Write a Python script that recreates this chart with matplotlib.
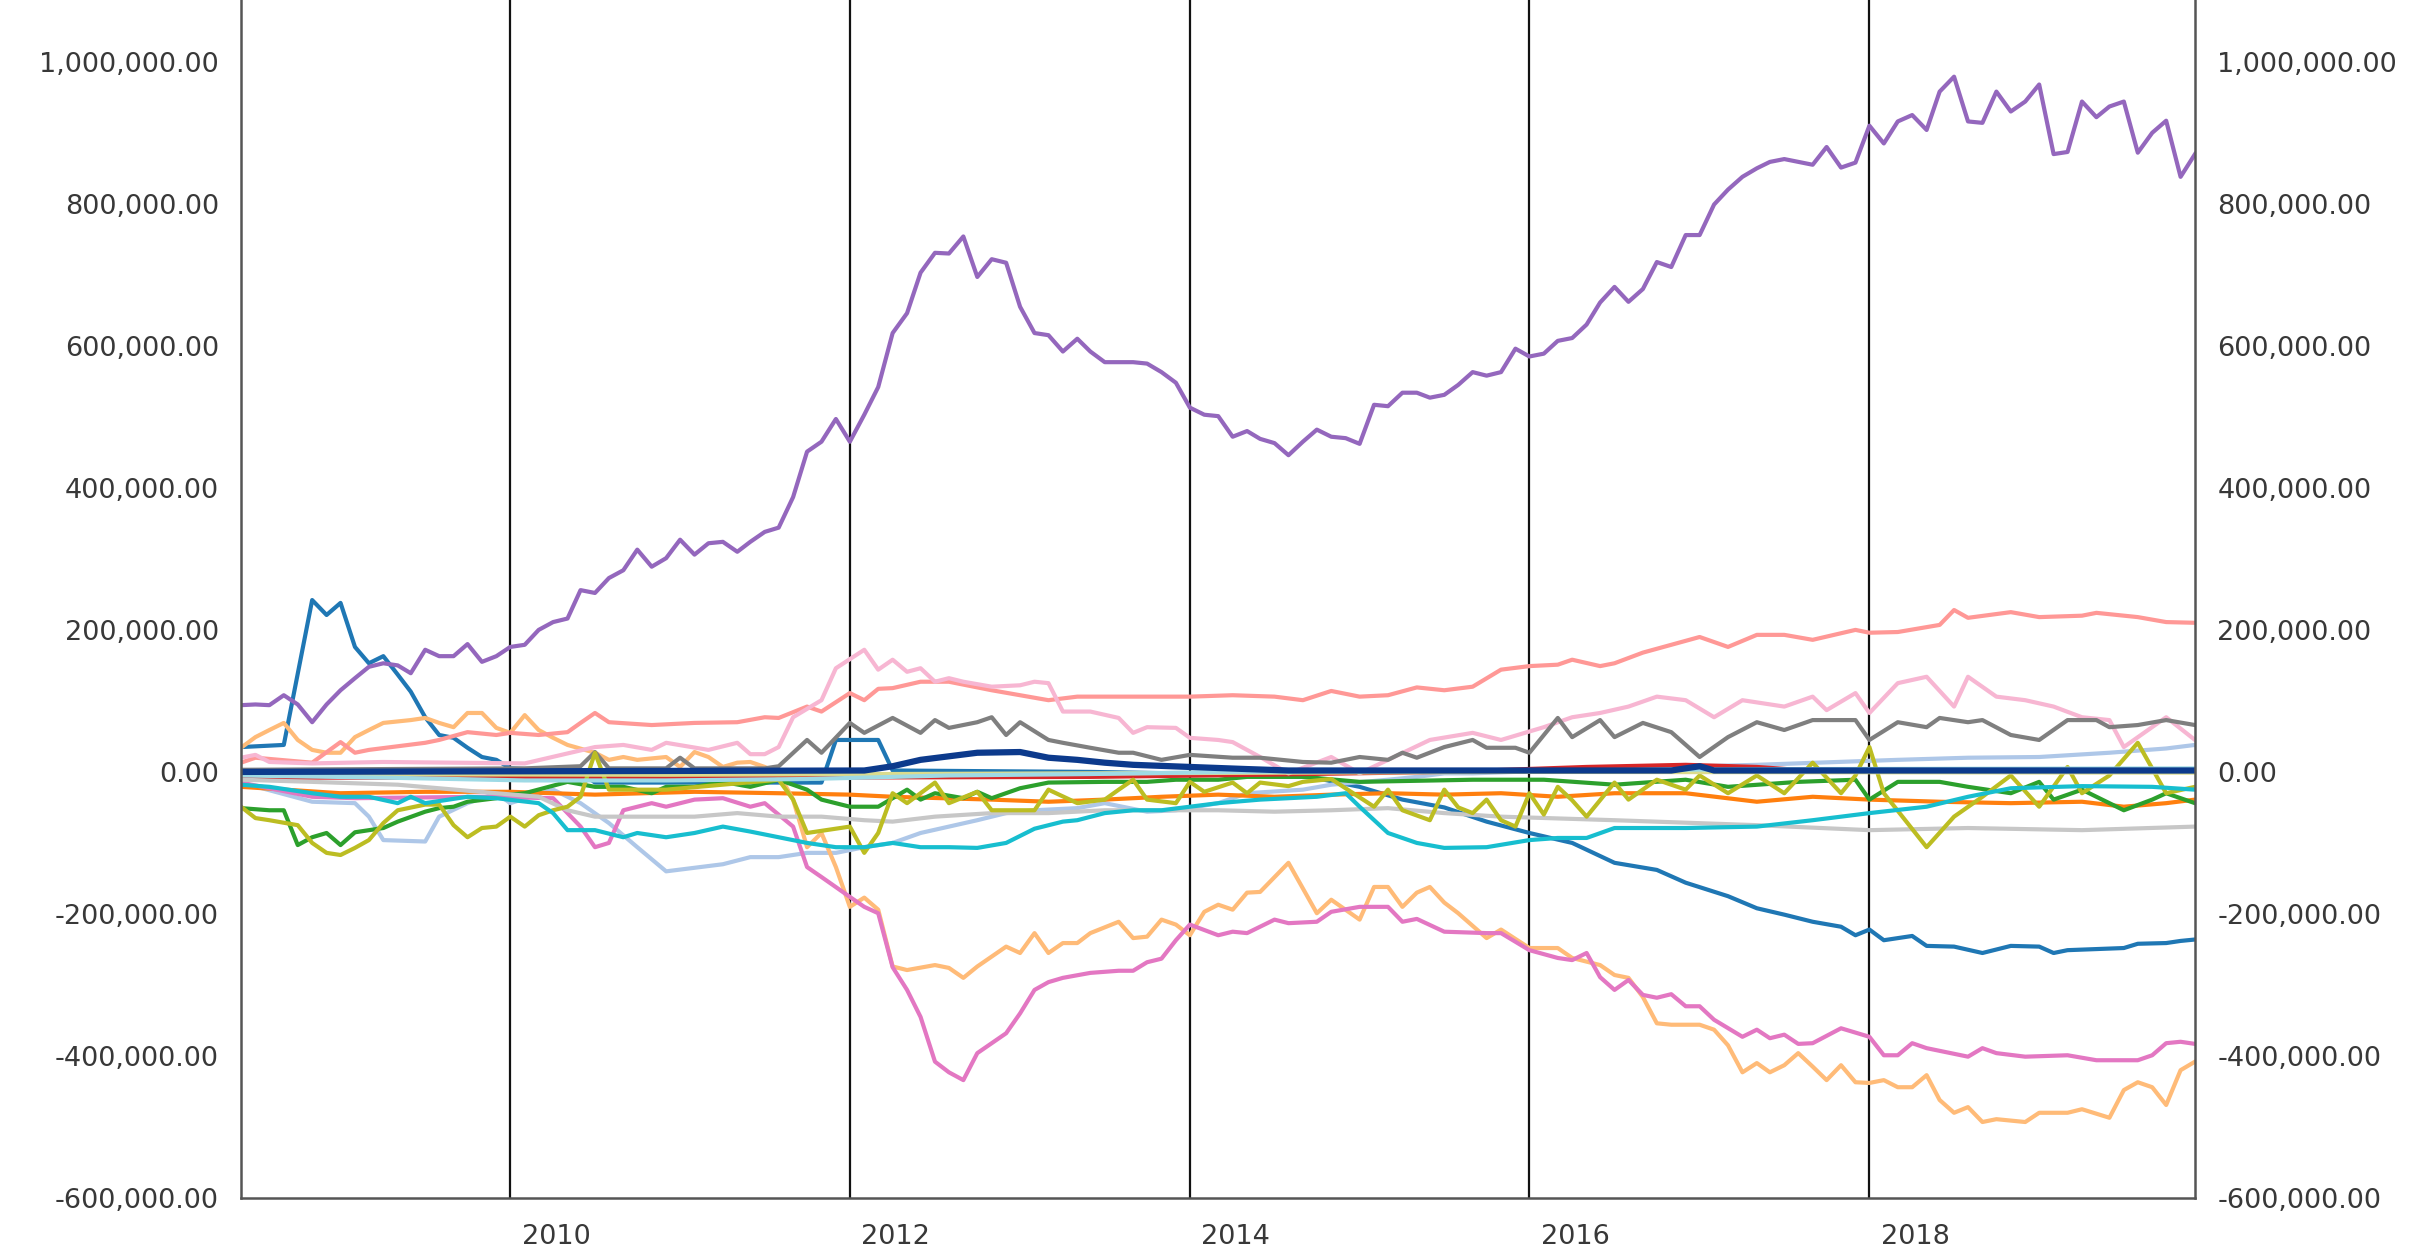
import pandas as pd
import matplotlib
matplotlib.use("Agg")
import matplotlib.pyplot as plt
from matplotlib.ticker import FuncFormatter
import matplotlib.dates as mdates

# monthly axis, Mar 2008 .. Sep 2019
dates = pd.date_range("2008-03-01", periods=139, freq="MS")

# values in thousands
purple_v = [94, 95, 94, 108, 95, 70, 95, 115, 132, 148, 153, 150, 139, 172, 163, 163, 180, 155, 163, 176,
            179, 200, 211, 216, 256, 252, 273, 284, 313, 289, 301, 327, 306, 322, 324, 310, 324, 338, 344, 387,
            451, 465, 497, 465, 503, 542, 618, 646, 703, 731, 730, 754, 697, 722, 717, 655, 618, 615, 592, 610,
            592, 577, 577, 577, 575, 563, 548, 513, 503, 501, 472, 480, 469, 463, 446, 465, 482, 472, 470, 462,
            517, 515, 534, 534, 527, 531, 545, 563, 558, 563, 596, 585, 589, 607, 611, 630, 661, 683, 662, 680,
            718, 711, 756, 756, 799, 820, 838, 850, 859, 863, 859, 855, 880, 851, 858, 910, 885, 916, 925, 904,
            958, 979, 916, 914, 958, 930, 944, 968, 870, 873, 944, 922, 937, 944, 872, 900, 917, 838, 870]

blue_m = [0, 3, 5, 6, 7, 8, 9, 10, 11, 12, 13, 14, 15, 16, 17, 18, 19, 24, 25, 41,
          42, 43, 45, 46, 60, 75, 79, 82, 85, 88, 91, 94, 97, 100, 102, 105, 107, 109, 111, 113,
          114, 115, 116, 118, 119, 121, 123, 125, 127, 128, 129, 133, 134, 136, 137, 138]
blue_v = [35, 38, 242, 221, 238, 176, 153, 163, 137, 113, 77, 52, 48, 34, 21, 17, 5, 0, -15, -15,
          45, 45, 45, 2, 0, -5, -21, -39, -50, -70, -86, -100, -128, -138, -156, -175, -192, -201, -211, -218,
          -230, -222, -237, -231, -245, -246, -255, -245, -246, -255, -251, -248, -242, -241, -238, -236]

lblue_m = [0, 5, 8, 9, 10, 13, 14, 16, 18, 19, 22, 24, 26, 28, 30, 32, 34, 36, 38, 40,
           42, 44, 46, 48, 50, 52, 54, 56, 59, 61, 64, 66, 69, 71, 75, 77, 81, 83, 85, 87,
           97, 107, 117, 122, 127, 132, 136, 138]
lblue_v = [-15, -42, -44, -63, -96, -98, -63, -44, -30, -44, -25, -44, -72, -106, -140, -135, -130, -120, -120, -114,
           -114, -106, -100, -86, -77, -68, -58, -54, -51, -44, -56, -54, -44, -30, -25, -18, -11, -7, -2, -2,
           5, 10, 17, 20, 21, 27, 33, 38]

orange_m = [0, 7, 13, 19, 25, 32, 38, 43, 46, 53, 57, 61, 65, 69, 73, 77, 81, 85, 89, 93,
            97, 102, 107, 111, 115, 120, 125, 130, 133, 136, 138]
orange_v = [-21, -30, -28, -28, -32, -28, -30, -32, -35, -39, -42, -39, -35, -32, -35, -32, -30, -32, -30, -35,
            -30, -30, -42, -35, -39, -42, -44, -42, -49, -44, -39]

lorange_m = [0, 1, 2, 3, 4, 5, 6, 7, 8, 9, 10, 12, 13, 14, 15, 16, 17, 18, 19, 20,
             21, 22, 23, 25, 26, 27, 28, 30, 31, 32, 33, 34, 35, 36, 37, 38, 39, 40, 41, 42,
             43, 44, 45, 46, 47, 49, 50, 51, 52, 54, 55, 56, 57, 58, 59, 60, 62, 63, 64, 65,
             66, 67, 68, 69, 70, 71, 72, 74, 76, 77, 79, 80, 81, 82, 83, 84, 85, 86, 88, 89,
             91, 93, 94, 96, 97, 98, 99, 100, 101, 103, 104, 105, 106, 107, 108, 109, 110, 111, 112, 113,
             114, 115, 116, 117, 118, 119, 120, 121, 122, 123, 124, 126, 127, 129, 130, 132, 133, 134, 135, 136,
             137, 138]
lorange_v = [34, 49, 59, 69, 45, 31, 27, 27, 49, 59, 69, 73, 76, 69, 63, 83, 83, 62, 55, 80,
             59, 48, 38, 27, 17, 21, 17, 21, 7, 28, 21, 7, 13, 14, 7, -2, -39, -106, -86, -134,
             -190, -177, -194, -274, -279, -272, -276, -290, -274, -246, -255, -227, -255, -241, -241, -227, -211, -234, -232, -208,
             -215, -230, -197, -187, -194, -170, -169, -128, -199, -180, -208, -162, -162, -190, -170, -162, -184, -199, -234, -222,
             -248, -248, -262, -272, -286, -290, -317, -354, -356, -356, -363, -385, -423, -410, -423, -413, -396, -415, -434, -413,
             -437, -438, -434, -444, -444, -427, -462, -480, -472, -493, -489, -493, -480, -480, -475, -487, -448, -437, -444, -469,
             -420, -408]

green_m = [0, 2, 3, 4, 5, 6, 7, 8, 10, 11, 13, 14, 15, 16, 18, 19, 20, 23, 25, 27,
           29, 30, 32, 34, 36, 38, 40, 41, 43, 45, 47, 48, 49, 51, 52, 53, 55, 57, 61, 64,
           66, 69, 71, 75, 79, 87, 92, 97, 102, 105, 110, 114, 115, 117, 120, 122, 125, 127, 128, 130,
           131, 133, 135, 136, 138]
green_v = [-51, -54, -54, -103, -92, -86, -103, -85, -79, -70, -56, -51, -49, -42, -37, -32, -30, -14, -21, -21,
           -30, -21, -21, -14, -21, -11, -25, -39, -49, -49, -25, -39, -30, -37, -28, -37, -23, -15, -14, -14,
           -11, -11, -7, -7, -14, -11, -11, -18, -11, -21, -14, -11, -39, -14, -14, -21, -30, -14, -39, -25,
           -35, -54, -39, -30, -44]

red_m = [0, 20, 40, 60, 72, 85, 95, 102, 107, 112, 138]
red_v = [-8, -8, -8, -7, -4, 0, 7, 10, 7, 0, 0]

salmon_m = [0, 1, 5, 7, 8, 9, 13, 14, 16, 18, 19, 21, 23, 24, 25, 26, 29, 32, 35, 37,
            38, 40, 41, 43, 44, 45, 46, 48, 50, 53, 55, 57, 59, 61, 63, 67, 70, 73, 75, 77,
            79, 81, 83, 85, 87, 89, 91, 93, 94, 96, 97, 99, 103, 105, 107, 109, 111, 114, 115, 117,
            120, 121, 122, 125, 127, 130, 131, 134, 136, 138]
salmon_v = [13, 20, 13, 42, 27, 31, 41, 45, 56, 52, 55, 52, 56, 69, 83, 70, 66, 69, 70, 77,
            76, 92, 85, 111, 101, 117, 118, 127, 127, 115, 108, 101, 106, 106, 106, 106, 108, 106, 101, 114,
            106, 108, 119, 115, 120, 144, 149, 151, 158, 149, 153, 168, 190, 176, 193, 193, 186, 200, 196, 197,
            207, 228, 217, 225, 218, 220, 224, 218, 211, 210]

magenta_m = [0, 5, 8, 17, 22, 24, 25, 26, 27, 29, 30, 32, 34, 36, 37, 39, 40, 41, 43, 44,
             45, 46, 47, 48, 49, 50, 51, 52, 54, 55, 56, 57, 58, 60, 62, 63, 64, 65, 66, 67,
             69, 70, 71, 73, 74, 76, 77, 79, 81, 82, 83, 85, 88, 89, 91, 93, 94, 95, 96, 97,
             98, 99, 100, 101, 102, 103, 104, 106, 107, 108, 109, 110, 111, 113, 115, 116, 117, 118, 119, 122,
             123, 124, 126, 129, 131, 134, 135, 136, 137, 138]
magenta_v = [-15, -35, -37, -35, -37, -77, -106, -100, -54, -44, -49, -39, -37, -49, -44, -77, -134, -148, -176, -190,
             -199, -275, -307, -345, -408, -423, -434, -396, -368, -340, -307, -296, -290, -283, -280, -280, -268, -263, -237, -215,
             -230, -225, -227, -208, -213, -211, -197, -190, -190, -211, -207, -225, -227, -227, -251, -262, -265, -255, -289, -307,
             -293, -314, -318, -313, -330, -330, -349, -373, -363, -375, -370, -383, -382, -361, -373, -399, -399, -382, -389, -401,
             -389, -396, -401, -399, -406, -406, -399, -382, -380, -383]

lpink_m = [0, 1, 2, 5, 10, 15, 20, 25, 27, 29, 30, 33, 35, 36, 37, 38, 39, 41, 42, 44,
           45, 46, 47, 48, 49, 50, 51, 53, 55, 56, 57, 58, 60, 62, 63, 64, 66, 67, 69, 70,
           72, 74, 77, 79, 81, 84, 87, 89, 92, 94, 96, 98, 100, 102, 104, 106, 109, 111, 112, 114,
           115, 117, 119, 121, 122, 124, 126, 128, 130, 132, 133, 136, 138]
lpink_v = [20, 24, 14, 12, 14, 13, 12, 35, 38, 31, 41, 31, 41, 25, 25, 35, 77, 101, 146, 172,
           144, 158, 141, 146, 127, 132, 127, 120, 122, 127, 125, 85, 85, 76, 55, 63, 62, 48, 45, 42,
           21, -2, 21, -2, 17, 45, 55, 45, 63, 77, 83, 92, 106, 101, 77, 101, 92, 106, 87, 111,
           83, 125, 134, 92, 134, 106, 101, 92, 77, 73, 35, 77, 45]

gray_m = [0, 10, 20, 24, 25, 26, 30, 31, 32, 37, 38, 40, 41, 43, 44, 46, 48, 49, 50, 52,
          53, 54, 55, 57, 58, 60, 62, 63, 65, 67, 70, 72, 75, 77, 79, 81, 82, 83, 85, 87,
          88, 90, 91, 93, 94, 96, 97, 99, 101, 103, 105, 107, 109, 111, 114, 115, 117, 119, 120, 122,
          123, 125, 127, 129, 131, 132, 134, 136, 138]
gray_v = [3, 4, 5, 8, 28, 5, 5, 20, 5, 5, 8, 45, 27, 69, 55, 76, 55, 73, 62, 70,
          77, 52, 70, 45, 41, 34, 27, 27, 17, 24, 20, 20, 14, 13, 21, 17, 27, 20, 35, 45,
          34, 34, 27, 76, 49, 73, 49, 69, 56, 21, 49, 70, 59, 73, 73, 45, 70, 63, 76, 70,
          73, 52, 45, 73, 73, 63, 66, 73, 66]

lgray_m = [0, 5, 11, 18, 21, 23, 25, 27, 32, 35, 38, 41, 44, 46, 49, 53, 57, 61, 65, 69,
           73, 77, 81, 85, 89, 97, 107, 115, 122, 130, 138]
lgray_v = [-11, -14, -18, -30, -35, -54, -63, -63, -63, -58, -63, -63, -68, -70, -63, -58, -58, -54, -54, -54,
           -56, -54, -51, -58, -63, -68, -75, -82, -79, -82, -77]

olive_m = [0, 1, 2, 4, 5, 6, 7, 8, 9, 10, 11, 13, 14, 15, 16, 17, 18, 19, 20, 21,
           22, 23, 24, 25, 26, 30, 38, 39, 40, 43, 44, 45, 46, 47, 49, 50, 52, 53, 55, 56,
           57, 59, 61, 62, 63, 64, 66, 67, 68, 70, 71, 72, 74, 75, 77, 80, 81, 82, 84, 85,
           86, 87, 88, 89, 90, 91, 92, 93, 94, 95, 97, 98, 100, 102, 103, 105, 107, 109, 111, 113,
           114, 115, 116, 119, 121, 123, 125, 127, 129, 130, 132, 134, 136, 138]
olive_v = [-49, -65, -68, -75, -100, -114, -117, -107, -96, -72, -54, -46, -46, -75, -92, -79, -77, -63, -77, -61,
           -54, -49, -35, 27, -25, -25, -11, -39, -86, -77, -114, -86, -30, -44, -15, -44, -28, -54, -54, -54,
           -25, -44, -39, -25, -11, -39, -44, -14, -28, -15, -30, -15, -20, -14, -10, -49, -25, -54, -68, -25,
           -50, -58, -39, -68, -77, -30, -60, -21, -40, -63, -15, -39, -11, -25, -5, -30, -5, -30, 13, -30,
           -5, 35, -30, -106, -63, -35, -5, -49, 7, -30, -5, 41, -30, -21]

lolive_m = [0, 30, 60, 90, 138]
lolive_v = [-3, -4, -2, 0, -1]

cyan_m = [0, 2, 5, 7, 9, 11, 12, 13, 16, 18, 21, 22, 23, 25, 27, 28, 30, 32, 34, 36,
          38, 40, 42, 44, 46, 48, 50, 52, 54, 56, 58, 59, 61, 63, 65, 67, 69, 72, 76, 78,
          79, 81, 83, 85, 88, 91, 93, 95, 97, 102, 107, 111, 115, 119, 122, 125, 130, 135, 138]
cyan_v = [-18, -21, -30, -35, -35, -44, -35, -44, -35, -37, -44, -58, -82, -82, -92, -86, -92, -86, -77, -84,
          -92, -100, -106, -106, -100, -106, -106, -107, -100, -80, -70, -68, -58, -54, -54, -49, -44, -39, -35, -30,
          -49, -86, -100, -107, -106, -96, -93, -93, -79, -79, -77, -68, -58, -49, -35, -23, -20, -21, -25]

lcyan_m = [0, 10, 20, 30, 40, 50, 60, 70, 90, 110, 138]
lcyan_v = [-5, -8, -12, -12, -10, -5, -3, 0, 2, 4, 5]

navy_m = [0, 44, 46, 48, 50, 52, 55, 57, 59, 61, 63, 67, 71, 74, 101, 103, 104, 138]
navy_v = [0, 2, 8, 17, 22, 27, 28, 20, 17, 13, 10, 7, 4, 2, 2, 8, 2, 2]

# vertical marker lines (month index) and year labels
marker_months = [19, 43, 67, 91, 115]
label_years = [2010, 2012, 2014, 2016, 2018]

series = [
    (blue_m, blue_v, "#1f77b4"),
    (lblue_m, lblue_v, "#aec7e8"),
    (orange_m, orange_v, "#ff7f0e"),
    (lorange_m, lorange_v, "#ffbb78"),
    (green_m, green_v, "#2ca02c"),
    (red_m, red_v, "#d62728"),
    (salmon_m, salmon_v, "#ff9896"),
    (list(range(139)), purple_v, "#9467bd"),
    (magenta_m, magenta_v, "#e377c2"),
    (lpink_m, lpink_v, "#f7b6d2"),
    (gray_m, gray_v, "#7f7f7f"),
    (lgray_m, lgray_v, "#c7c7c7"),
    (olive_m, olive_v, "#bcbd22"),
    (lolive_m, lolive_v, "#dbdb8d"),
    (cyan_m, cyan_v, "#17becf"),
    (lcyan_m, lcyan_v, "#9edae5"),
]

fig = plt.figure(figsize=(24.2, 12.53), dpi=100)
ax = fig.add_axes([241 / 2420, 55 / 1253, (2195 - 241) / 2420, 1198 / 1253])

for m, v, c in series:
    ax.plot(dates[m], [x * 1000 for x in v], color=c, lw=3.0)
ax.plot(dates[navy_m], [x * 1000 for x in navy_v], color="#0c3a8c", lw=4.5)

for mm in marker_months:
    ax.axvline(dates[mm], color="#111111", lw=1.6, zorder=0)

ax.set_xlim(dates[0], dates[138])
ax.set_ylim(-600000, 1087000)
ax.set_yticks(range(-600000, 1000001, 200000))
ax.yaxis.set_major_formatter(FuncFormatter(lambda y, p: "{:,.2f}".format(y)))
ax.set_xticks([pd.Timestamp(f"{y}-01-08") for y in label_years])
ax.xaxis.set_major_formatter(mdates.DateFormatter("%Y"))

ax.tick_params(axis="y", length=0, labelsize=19.5, labelcolor="#383838",
               labelleft=True, labelright=True, pad=16)
ax.tick_params(axis="x", length=0, labelsize=19.5, labelcolor="#383838", pad=19)

ax.spines["top"].set_visible(False)
for s in ["left", "right", "bottom"]:
    ax.spines[s].set_color("#555555")
    ax.spines[s].set_linewidth(1.8)

plt.savefig("out.png", dpi=100)
